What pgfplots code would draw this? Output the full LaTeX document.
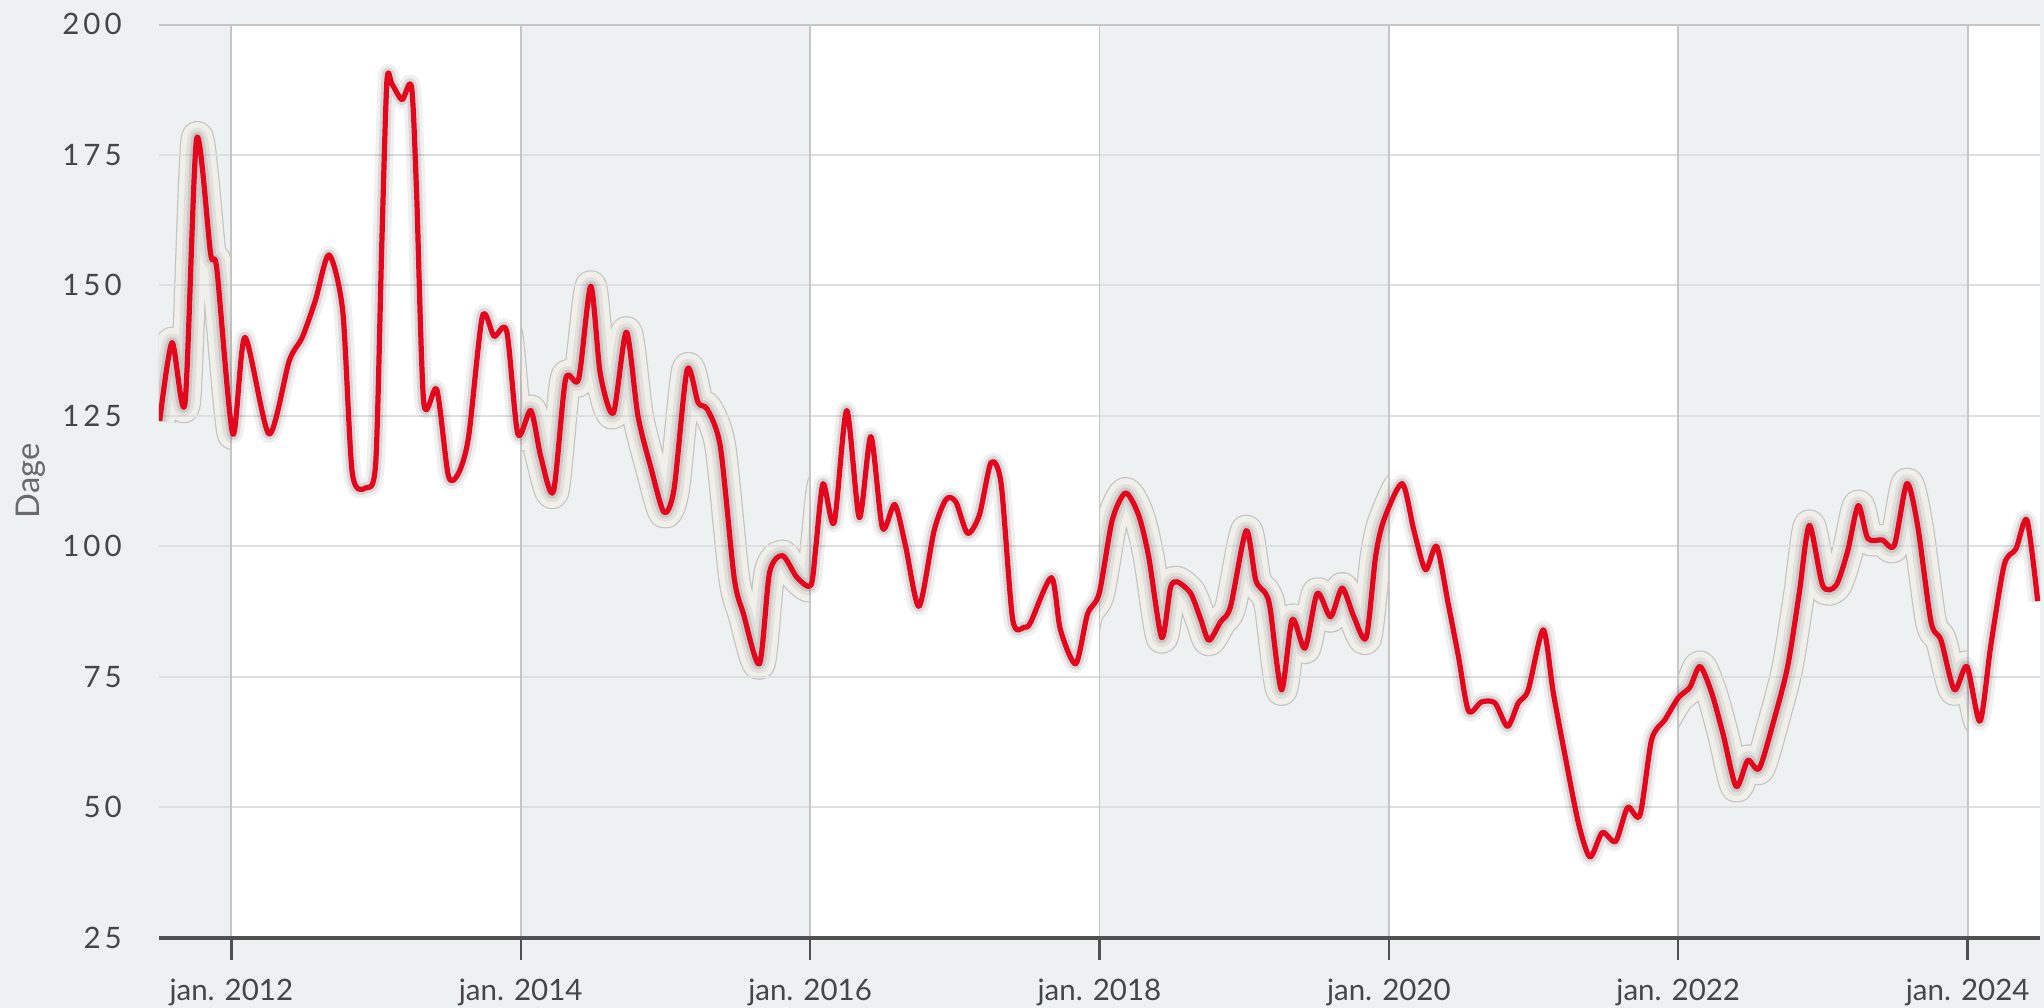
\documentclass[border=0pt]{standalone}
\usepackage{pgfplots}
\usepackage{pgfplotstable}
\pgfplotsset{compat=1.18}
\usepackage{fontspec}
\setmainfont{Lato}
\definecolor{bgc}{RGB}{237,241,242}
\definecolor{halo}{RGB}{241,239,234}
\definecolor{haloedge}{RGB}{196,196,194}
\definecolor{gridc}{RGB}{222,223,224}
\definecolor{vgrid}{RGB}{198,198,198}
\definecolor{redl}{RGB}{227,6,28}
\definecolor{axc}{RGB}{80,80,80}
\definecolor{labc}{RGB}{70,70,70}
\definecolor{ylabc}{RGB}{105,105,105}

\pgfplotstableread{
x y
2011.505 124
2011.59 139
2011.68 127.5
2011.76 178
2011.857 156
2011.90 153
2012.01 121.5
2012.094 140
2012.26 121.5
2012.40 135.5
2012.49 140
2012.58 147
2012.675 155.8
2012.77 145
2012.836 114
2012.93 111.2
2012.998 116
2013.04 158
2013.075 189
2013.11 188.5
2013.18 185.5
2013.245 188
2013.28 168
2013.33 127.5
2013.42 130
2013.50 113.5
2013.57 114
2013.64 121
2013.735 144
2013.816 140.2
2013.903 141.2
2013.98 121.5
2014.07 126
2014.14 117
2014.226 110.5
2014.31 132
2014.40 132
2014.484 149.8
2014.55 133
2014.64 125.5
2014.73 141
2014.81 125
2014.90 115
2014.99 106.5
2015.06 111
2015.15 133.8
2015.226 127.5
2015.29 126.2
2015.38 119
2015.475 94
2015.54 87
2015.65 77.5
2015.72 95
2015.81 98.2
2015.91 94
2016.005 92.5
2016.04 100
2016.09 112
2016.166 104.5
2016.253 126
2016.34 105.5
2016.42 121
2016.5 103.5
2016.585 108
2016.66 100
2016.753 88.5
2016.857 103
2016.94 109
2017.007 108.5
2017.088 102.5
2017.17 106
2017.25 116
2017.32 112
2017.40 86
2017.48 84.5
2017.525 85.5
2017.668 94
2017.73 84
2017.836 77.5
2017.917 87
2017.998 91
2018.088 105
2018.18 110.2
2018.27 106
2018.34 98
2018.43 82.5
2018.49 92
2018.537 93.2
2018.63 91
2018.70 86
2018.756 82
2018.836 85.5
2018.906 88.5
2019.014 103
2019.08 93.5
2019.147 91
2019.18 88
2019.258 72.5
2019.332 86
2019.42 80.5
2019.505 91
2019.597 86.5
2019.677 92
2019.758 86.5
2019.843 82.5
2019.908 98
2019.965 105
2020.092 112
2020.173 103
2020.253 95.5
2020.33 100
2020.41 89
2020.48 79
2020.55 68.5
2020.64 70.2
2020.733 70
2020.82 65.5
2020.894 70
2020.963 72.5
2021.067 84
2021.136 72
2021.217 60
2021.31 47
2021.39 40.5
2021.475 45.2
2021.567 43.5
2021.65 50
2021.735 48.5
2021.816 63
2021.908 66.8
2022.0 71
2022.08 73
2022.15 77
2022.23 72
2022.31 64
2022.40 54
2022.48 59
2022.56 57.5
2022.664 67
2022.756 77
2022.836 91
2022.906 104
2022.998 92.5
2023.09 92.5
2023.17 99
2023.244 107.8
2023.31 101.5
2023.41 101.2
2023.493 100.2
2023.58 112
2023.654 104
2023.747 85.5
2023.816 82
2023.908 72.5
2023.995 77
2024.085 66.5
2024.16 81
2024.253 96.5
2024.334 99.5
2024.41 105
2024.484 89.5
}\datatable

\begin{document}
\begin{tikzpicture}
\fill[bgc] (-39.75bp,-17.5bp) rectangle (471.25bp,234.5bp);
\begin{axis}[
  at={(0,0)}, anchor=south west,
  scale only axis, width=470.25bp, height=228.5bp,
  xmin=2011.5, xmax=2024.5, ymin=25, ymax=200,
  axis on top,
  axis x line*=bottom, axis y line*=left,
  y axis line style={draw=none},
  x axis line style={axc, line width=0.8bp},
  xtick={2012,2014,...,2024},
  xticklabels={jan. 2012, jan. 2014, jan. 2016, jan. 2018, jan. 2020, jan. 2022, jan. 2024},
  ytick={25,50,...,200},
  yticklabels={25,50,75,100,125,150,175,200},
  tick align=outside,
  major tick length=5.5bp,
  xtick style={axc, line width=0.6bp},
  ytick style={draw=none},
  xticklabel style={font=\fontsize{7.4}{8}\selectfont, text=labc, anchor=base, inner sep=0pt, yshift=-10bp},
  yticklabel style={font=\fontsize{7.4}{8}\selectfont\addfontfeature{LetterSpace=14}, text=labc, anchor=east, inner sep=0pt, xshift=-3.6bp},
  smooth, tension=0.45,
]
\addplot[haloedge, line width=8bp, line join=round, line cap=butt] table {\datatable};
\addplot[halo, line width=7.4bp, line join=round, line cap=butt] table {\datatable};
\fill[white] (axis cs:2012,25) rectangle (axis cs:2014,200);
\fill[white] (axis cs:2016,25) rectangle (axis cs:2018,200);
\fill[white] (axis cs:2020,25) rectangle (axis cs:2022,200);
\fill[white] (axis cs:2024,25) rectangle (axis cs:2024.6,200);
\pgfplotsinvokeforeach{50,75,100,125,150,175}{
  \draw[gridc, line width=0.5bp] (axis cs:2011.5,#1) -- (axis cs:2024.5,#1);
}
\pgfplotsinvokeforeach{2012,2014,2016,2018,2020,2022,2024}{
  \draw[vgrid, line width=0.45bp] (axis cs:#1,25) -- (axis cs:#1,200);
}
\draw[vgrid, line width=1bp] (axis cs:2011.5,200) -- (axis cs:2024.5,200);
\addplot[black, opacity=0.06, line width=4.6bp, line join=round] table {\datatable};
\addplot[black, opacity=0.10, line width=2.8bp, line join=round] table {\datatable};
\addplot[redl, line width=1.3bp, line join=round] table {\datatable};
\end{axis}
\node[rotate=90, font=\fontsize{8.2}{9}\selectfont, text=ylabc] at (-32bp,114.25bp) {Dage};
\end{tikzpicture}
\end{document}
